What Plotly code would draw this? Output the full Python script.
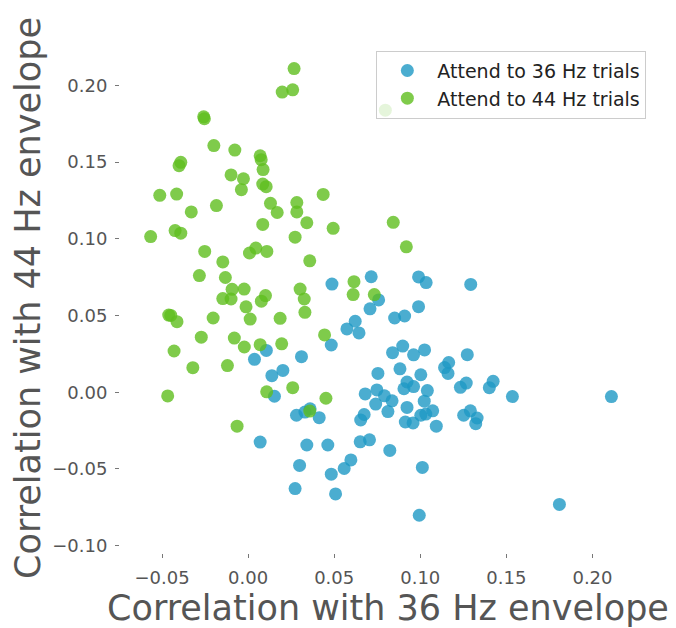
import plotly.graph_objects as go

# Attend to 36 Hz trials: (corr with 36 Hz envelope, corr with 44 Hz envelope)
x36 = [0.0106, 0.0037, 0.0310, 0.0138, 0.0202, 0.0153, 0.0281, 0.0330, 0.0360, 0.0413,
       0.0487, 0.0715, 0.0758, 0.0708, 0.0990, 0.1034, 0.0990, 0.0909, 0.0851, 0.0622,
       0.0574, 0.0644, 0.0483, 0.0898, 0.0839, 0.0961, 0.1025, 0.0882, 0.0754, 0.1003,
       0.0923, 0.0905, 0.0961, 0.1041, 0.0680, 0.0748, 0.0792, 0.0836, 0.0741, 0.0812,
       0.0923, 0.1023, 0.0674, 0.0654, 0.1003, 0.1032, 0.1072, 0.0913, 0.0958, 0.1093,
       0.1293, 0.1273, 0.1141, 0.1165, 0.1161, 0.1233, 0.1267, 0.1401, 0.1423, 0.1535,
       0.2110, 0.1252, 0.1291, 0.1330, 0.1322, 0.0070, 0.0341, 0.0463, 0.0299, 0.0273,
       0.0483, 0.0558, 0.0597, 0.0508, 0.0651, 0.0705, 0.0823, 0.1012, 0.0994, 0.1808]
y36 = [0.0273, 0.0215, 0.0232, 0.0108, 0.0142, -0.0026, -0.0150, -0.0129, -0.0108, -0.0166,
       0.0705, 0.0753, 0.0602, 0.0544, 0.0752, 0.0715, 0.0558, 0.0497, 0.0484, 0.0463,
       0.0413, 0.0387, 0.0308, 0.0301, 0.0258, 0.0244, 0.0276, 0.0153, 0.0123, 0.0114,
       0.0067, 0.0023, 0.0037, 0.0011, -0.0011, 0.0015, -0.0023, -0.0056, -0.0077, -0.0126,
       -0.0099, -0.0058, -0.0145, -0.0181, -0.0150, -0.0142, -0.0121, -0.0194, -0.0200, -0.0221,
       0.0703, 0.0245, 0.0161, 0.0194, 0.0123, 0.0032, 0.0060, 0.0030, 0.0071, -0.0028,
       -0.0028, -0.0150, -0.0121, -0.0168, -0.0205, -0.0325, -0.0344, -0.0344, -0.0477, -0.0628,
       -0.0534, -0.0497, -0.0441, -0.0663, -0.0323, -0.0310, -0.0379, -0.0490, -0.0802, -0.0731]

# Attend to 44 Hz trials
x44 = [0.0267, 0.0198, 0.0259, -0.0258, -0.0254, -0.0199, -0.0077, 0.0070, 0.0076, 0.0087,
       -0.0391, -0.0401, -0.0099, -0.0027, -0.0039, 0.0085, 0.0105, -0.0513, -0.0415, -0.0184,
       -0.0330, 0.0130, 0.0169, 0.0283, 0.0283, 0.0085, 0.0341, -0.0566, -0.0424, -0.0391,
       0.0273, -0.0252, 0.0008, 0.0045, 0.0109, -0.0147, 0.0358, -0.0283, -0.0132, -0.0093,
       -0.0023, -0.0147, -0.0099, 0.0101, 0.0077, 0.0302, 0.0326, -0.0012, 0.0330, -0.0461,
       -0.0449, -0.0413, -0.0203, 0.0012, 0.0186, -0.0272, -0.0080, -0.0022, 0.0070, 0.0195,
       -0.0430, -0.0321, -0.0120, -0.0467, 0.0108, 0.0259, 0.0358, 0.0494, 0.0843, 0.0919,
       0.0615, 0.0610, 0.0733, 0.0444, 0.0452, -0.0064, 0.0797, 0.0436]
y44 = [0.2110, 0.1957, 0.1972, 0.1796, 0.1783, 0.1608, 0.1579, 0.1542, 0.1516, 0.1452,
       0.1499, 0.1477, 0.1417, 0.1392, 0.1321, 0.1357, 0.1340, 0.1284, 0.1292, 0.1217,
       0.1176, 0.1232, 0.1172, 0.1237, 0.1176, 0.1094, 0.1105, 0.1015, 0.1054, 0.1037,
       0.1011, 0.0918, 0.0908, 0.0940, 0.0918, 0.0850, 0.0857, 0.0761, 0.0748, 0.0671,
       0.0673, 0.0611, 0.0608, 0.0630, 0.0594, 0.0673, 0.0608, 0.0557, 0.0521, 0.0503,
       0.0501, 0.0460, 0.0484, 0.0477, 0.0482, 0.0359, 0.0353, 0.0295, 0.0310, 0.0316,
       0.0269, 0.0160, 0.0174, -0.0024, 0.0003, 0.0030, -0.0123, 0.1069, 0.1108, 0.0948,
       0.0721, 0.0637, 0.0637, 0.0374, -0.0039, -0.0221, 0.1839, 0.1290]

names = ["Attend to 36 Hz trials", "Attend to 44 Hz trials"]
xticks = [-0.05, 0.0, 0.05, 0.10, 0.15, 0.20]
yticks = [-0.10, -0.05, 0.0, 0.05, 0.10, 0.15, 0.20]
xlabel = "Correlation with 36 Hz envelope"
ylabel = "Correlation with 44 Hz envelope"

FONT = "DejaVu Sans"
fig = go.Figure()
fig.add_trace(go.Scatter(x=x36, y=y36, mode="markers", name=names[0],
                         marker=dict(size=13, color="rgba(30,152,196,0.8)", line=dict(width=0))))
fig.add_trace(go.Scatter(x=x44, y=y44, mode="markers", name=names[1],
                         marker=dict(size=13, color="rgba(95,190,30,0.8)", line=dict(width=0))))

axis_common = dict(showgrid=False, zeroline=False, showline=False, ticks="outside",
                   ticklen=4, tickwidth=1, tickcolor="#777", ticklabelstandoff=4,
                   tickfont=dict(family=FONT, size=18, color="#555"), tickformat=".2f")
fig.update_layout(
    width=676, height=628,
    margin=dict(l=120, r=20, t=43, b=59),
    paper_bgcolor="white", plot_bgcolor="white",
    xaxis=dict(range=[-0.0744, 0.2369], tickvals=xticks,
               title=dict(text=xlabel, font=dict(family=FONT, size=35, color="#555"), standoff=4),
               **axis_common),
    yaxis=dict(range=[-0.1048, 0.2277], tickvals=yticks,
               title=dict(text=ylabel, font=dict(family=FONT, size=35, color="#555"), standoff=0),
               **axis_common),
    legend=dict(x=0.982, y=0.985, xanchor="right", yanchor="top",
                bgcolor="rgba(255,255,255,0.8)", bordercolor="#cccccc", borderwidth=1,
                font=dict(family=FONT, size=19, color="#222"), itemwidth=50),
    showlegend=True,
)
fig.write_html("out.html", config={"displayModeBar": False},
               post_script="document.body.style.margin='0px';")
